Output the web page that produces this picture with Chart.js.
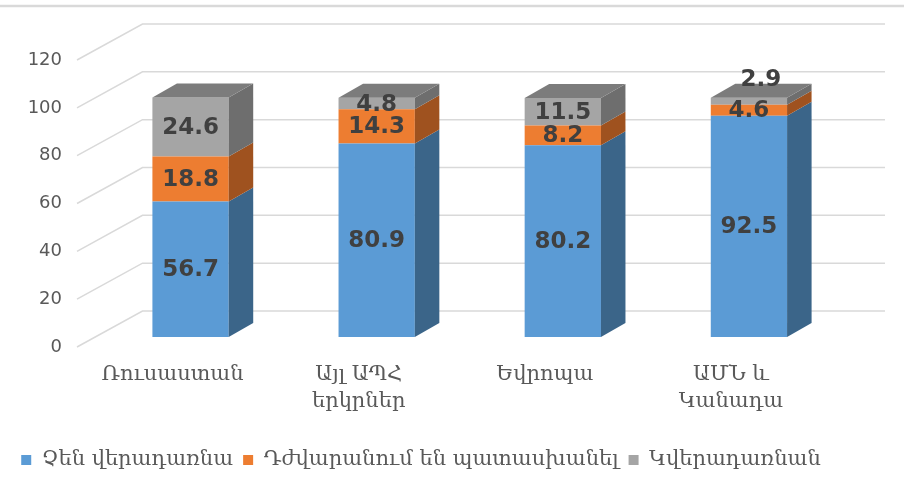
<!DOCTYPE html>
<html>
<head>
<meta charset="utf-8">
<script src="https://cdn.jsdelivr.net/npm/chart.js@4.4.1/dist/chart.umd.min.js"></script>
<style>
  html, body { margin: 0; padding: 0; background: #fff; }
  #wrap { width: 904px; height: 493px; position: relative; }
</style>
</head>
<body>
<div id="wrap"><canvas id="chart"></canvas></div>
<script>
// Data
const categories = ['Ռուսաստան', ['Այլ ԱՊՀ', 'երկրներ'], 'Եվրոպա', ['ԱՄՆ և', 'Կանադա']]
const seriesNames = ['Չեն վերադառնա', 'Դժվարանում են պատասխանել', 'Կվերադառնան']
const wontReturn = [56.7, 80.9, 80.2, 92.5]
const hardToSay = [18.8, 14.3, 8.2, 4.6]
const willReturn = [24.6, 4.8, 11.5, 2.9]
const yTicks = [0, 20, 40, 60, 80, 100, 120]

const frontColors = ['#5b9bd5', '#ed7d31', '#a5a5a5']
const sideColors = ['#3b6589', '#9f521f', '#6e6e6e']
const topColor = '#7c7c7c'

// 3d look
const DX = 24.5, DY = 14       // bar depth
const WALL_DX = 45, WALL_DY = 26 // back wall shift

const box3d = {
  id: 'box3d',
  beforeDatasetsDraw(chart) {
    const { ctx, chartArea, scales: { y } } = chart
    ctx.save()
    ctx.strokeStyle = '#d9d9d9'
    ctx.lineWidth = 1.5
    yTicks.forEach(v => {
      const py = y.getPixelForValue(v)
      ctx.beginPath()
      ctx.moveTo(chartArea.left - 20.5, py + 10)
      ctx.lineTo(chartArea.left + WALL_DX, py - WALL_DY)
      ctx.lineTo(chartArea.right + 43, py - WALL_DY)
      ctx.stroke()
    })
    // frame line at the top
    ctx.lineWidth = 2.5
    ctx.beginPath()
    ctx.moveTo(0, 6)
    ctx.lineTo(chart.width, 6)
    ctx.stroke()
    ctx.restore()
  },
  afterDatasetsDraw(chart) {
    const { ctx } = chart
    const last = chart.data.datasets.length - 1
    ctx.save()
    chart.data.datasets.forEach((ds, i) => {
      const meta = chart.getDatasetMeta(i)
      meta.data.forEach(bar => {
        const { x, y, base, width } = bar.getProps(['x', 'y', 'base', 'width'], true)
        const l = x - width / 2, r = x + width / 2
        ctx.fillStyle = sideColors[i]
        ctx.beginPath()
        ctx.moveTo(r, y)
        ctx.lineTo(r + DX, y - DY)
        ctx.lineTo(r + DX, base - DY)
        ctx.lineTo(r, base)
        ctx.closePath()
        ctx.fill()
        if (i === last) {
          ctx.fillStyle = topColor
          ctx.beginPath()
          ctx.moveTo(l, y)
          ctx.lineTo(l + DX, y - DY)
          ctx.lineTo(r + DX, y - DY)
          ctx.lineTo(r, y)
          ctx.closePath()
          ctx.fill()
        }
      })
    })
    // value labels
    ctx.font = 'bold 23px "DejaVu Sans"'
    ctx.fillStyle = '#404040'
    ctx.textAlign = 'center'
    ctx.textBaseline = 'middle'
    chart.data.datasets.forEach((ds, i) => {
      const meta = chart.getDatasetMeta(i)
      meta.data.forEach((bar, j) => {
        const { x, y, base } = bar.getProps(['x', 'y', 'base'], true)
        let ly = (y + base) / 2 + 1
        let lx = x
        if (i === last && base - y < 10) {
          ly = y - DY - 4
          lx = x + 12
        }
        ctx.fillText(ds.data[j].toFixed(1), lx, ly)
      })
    })
    ctx.restore()
  }
}

const ctx = document.getElementById('chart')
const seriesData = [wontReturn, hardToSay, willReturn]

new Chart(ctx, {
  type: 'bar',
  data: {
    labels: categories,
    datasets: seriesNames.map((name, i) => ({
      label: name,
      data: seriesData[i],
      backgroundColor: frontColors[i],
      borderWidth: 0,
      barPercentage: 0.41,
      categoryPercentage: 1
    }))
  },
  options: {
    responsive: true,
    maintainAspectRatio: false,
    animation: false,
    layout: { padding: { top: 50, right: 62, bottom: 12.5, left: 0 } },
    scales: {
      x: {
        stacked: true,
        grid: { display: false, drawTicks: false },
        border: { display: false },
        ticks: {
          color: '#595959',
          font: { family: '"DejaVu Serif"', size: 21, lineHeight: 1.3 },
          padding: 24,
          labelOffset: -18,
          maxRotation: 0,
          autoSkip: false
        },
        afterFit: s => { s.height = 102.5 }
      },
      y: {
        stacked: true,
        min: 0,
        max: 120,
        grid: { display: false, drawTicks: false },
        border: { display: false },
        ticks: {
          stepSize: 20,
          color: '#595959',
          font: { family: '"DejaVu Sans"', size: 18 },
          padding: 35.5,
          labelOffset: 10
        },
        afterFit: s => { s.width = 97.5 }
      }
    },
    plugins: {
      legend: {
        position: 'bottom',
        labels: {
          color: '#595959',
          font: { family: '"DejaVu Serif"', size: 21 },
          boxWidth: 10,
          boxHeight: 10,
          padding: 10
        }
      },
      tooltip: { enabled: false }
    }
  },
  plugins: [box3d]
})
</script>
</body>
</html>
